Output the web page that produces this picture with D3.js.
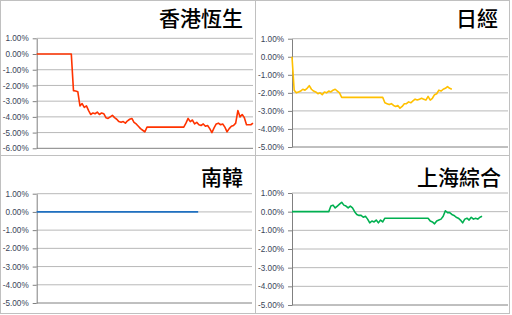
<!DOCTYPE html>
<html>
<head>
<meta charset="utf-8">
<script src="https://cdn.jsdelivr.net/npm/d3@7"></script>
<style>
  body { margin: 0; background: #fff; }
  svg { display: block; }
</style>
</head>
<body>
<div id="chart"></div>
<script>
// index titles
var titles = ["香港恆生", "日經", "南韓", "上海綜合"];

// % change, one value per time step (0..100 across the day)
var hangSeng = [
  0, 0, 0, 0, 0, 0, 0, 0, 0, 0, 0, 0, 0, 0, 0, 0, 0,
  -2.33, -2.35, -2.4, -3.3, -3.15, -3.4, -3.3, -3.6, -3.85, -3.75, -3.8, -3.7, -3.85,
  -3.75, -3.8, -4.05, -4.1, -4.0, -3.9, -4.05, -4.15, -4.3, -4.35, -4.3, -4.4, -4.25,
  -4.15, -4.1, -4.35, -4.45, -4.6, -4.75, -4.85, -4.95, -4.65,
  -4.65, -4.65, -4.65, -4.65, -4.65, -4.65, -4.65, -4.65, -4.65, -4.65, -4.65, -4.65,
  -4.65, -4.65, -4.65, -4.65, -4.65,
  -4.4, -4.1, -4.3, -4.2, -4.45, -4.35, -4.5, -4.55, -4.45, -4.6, -4.55, -4.75, -5.0,
  -4.7, -4.45, -4.4, -4.5, -4.45, -4.65, -4.95, -4.75, -4.6, -4.55, -4.4, -3.6, -4.0,
  -3.85, -4.05, -4.5, -4.5, -4.5, -4.4
];
var nikkei = [
  0, -1.85, -2.0, -1.95, -1.9, -1.8, -1.85, -1.75, -1.6, -1.8, -1.9, -1.95, -2.05,
  -2.0, -2.1, -1.95, -2.0, -1.9, -1.95, -1.85, -1.8, -1.9, -2.0, -2.25,
  -2.25, -2.25, -2.25, -2.25, -2.25, -2.25, -2.25, -2.25, -2.25, -2.25, -2.25, -2.25,
  -2.25, -2.25, -2.25, -2.25, -2.25, -2.25, -2.25,
  -2.55, -2.6, -2.65, -2.6, -2.7, -2.75, -2.7, -2.85, -2.75, -2.6, -2.6, -2.5, -2.55,
  -2.45, -2.35, -2.4, -2.35, -2.3, -2.35, -2.4, -2.2, -2.4, -2.3, -2.1, -2.05, -1.85,
  -1.9, -1.8, -1.75, -1.65, -1.75, -1.8
];
var kospi = [
  0, 0, 0, 0, 0, 0, 0, 0, 0, 0, 0, 0, 0, 0, 0, 0, 0, 0, 0, 0, 0, 0, 0, 0, 0, 0,
  0, 0, 0, 0, 0, 0, 0, 0, 0, 0, 0, 0, 0, 0, 0, 0, 0, 0, 0, 0, 0, 0, 0, 0, 0, 0,
  0, 0, 0, 0, 0, 0, 0, 0, 0, 0, 0, 0, 0, 0, 0, 0, 0, 0, 0, 0, 0, 0, 0, 0
];
var shanghai = [
  0, 0, 0, 0, 0, 0, 0, 0, 0, 0, 0, 0, 0, 0, 0, 0, 0, 0,
  0.3, 0.35, 0.2, 0.3, 0.4, 0.5, 0.35, 0.3, 0.2, 0.3, 0.2, 0.0, -0.15, -0.2, -0.2,
  -0.3, -0.25, -0.4, -0.6, -0.5, -0.55, -0.45, -0.6, -0.45, -0.55, -0.35,
  -0.35, -0.35, -0.35, -0.35, -0.35, -0.35, -0.35, -0.35, -0.35, -0.35, -0.35, -0.35,
  -0.35, -0.35, -0.35, -0.35, -0.35, -0.35, -0.35, -0.35,
  -0.5, -0.55, -0.65, -0.5, -0.45, -0.4, -0.25, 0.05, -0.05, -0.05, -0.15, -0.2,
  -0.3, -0.35, -0.45, -0.6, -0.4, -0.35, -0.45, -0.3, -0.4, -0.35, -0.4, -0.3, -0.25
];

// y ticks
var ticksHK = [1, 0, -1, -2, -3, -4, -5, -6];
var tickLabelsHK = ["1.00%", "0.00%", "-1.00%", "-2.00%", "-3.00%", "-4.00%", "-5.00%", "-6.00%"];
var ticksOther = [1, 0, -1, -2, -3, -4, -5];
var tickLabelsOther = ["1.00%", "0.00%", "-1.00%", "-2.00%", "-3.00%", "-4.00%", "-5.00%"];
var xDomain = [0, 100];

var panels = [
  {title: titles[0], values: hangSeng, ticks: ticksHK, labels: tickLabelsHK, color: "#ff3300",
   x0: 0, y0: 0, left: 36.7, right: 253, top: 38.3, bottom: 148.3, titleX: 243, titleY: 25.5},
  {title: titles[1], values: nikkei, ticks: ticksOther, labels: tickLabelsOther, color: "#ffc000",
   x0: 256, y0: 0, left: 36, right: 252, top: 38.7, bottom: 147, titleX: 242, titleY: 25.5},
  {title: titles[2], values: kospi, ticks: ticksOther, labels: tickLabelsOther, color: "#1f70c1",
   x0: 0, y0: 155, left: 36.7, right: 252, top: 38.7, bottom: 148, titleX: 243, titleY: 30},
  {title: titles[3], values: shanghai, ticks: ticksOther, labels: tickLabelsOther, color: "#00b050",
   x0: 256, y0: 155, left: 36, right: 252, top: 38, bottom: 150, titleX: 245, titleY: 30}
];

var svg = d3.select("#chart").append("svg")
    .attr("width", 512)
    .attr("height", 315);

// panel frames
svg.append("rect")
    .attr("x", 0.5).attr("y", 0.5)
    .attr("width", 509).attr("height", 313)
    .style("fill", "none").style("stroke", "#c0c0c0");
svg.append("line")
    .attr("x1", 255.5).attr("x2", 255.5).attr("y1", 0).attr("y2", 314)
    .style("stroke", "#c0c0c0");
svg.append("line")
    .attr("x1", 0).attr("x2", 510).attr("y1", 155.5).attr("y2", 155.5)
    .style("stroke", "#c0c0c0");

panels.forEach(function(p) {
    var g = svg.append("g")
        .attr("transform", "translate(" + p.x0 + "," + p.y0 + ")");

    var xScale = d3.scaleLinear().domain(xDomain).range([p.left, p.right]);
    var yScale = d3.scaleLinear()
        .domain([p.ticks[p.ticks.length - 1], p.ticks[0]])
        .range([p.bottom, p.top]);

    // gridlines
    g.selectAll("line.grid").data(p.ticks).enter().append("line")
        .attr("class", "grid")
        .attr("x1", p.left).attr("x2", p.right)
        .attr("y1", function(d) { return yScale(d); })
        .attr("y2", function(d) { return yScale(d); })
        .style("stroke", function(d, i) { return i === p.ticks.length - 1 ? "#808080" : "#b8b8b8"; })
        .style("stroke-width", 1);

    // y axis
    var yAxis = d3.axisLeft(yScale)
        .tickValues(p.ticks)
        .tickFormat(function(d, i) { return p.labels[i]; })
        .tickSizeInner(4)
        .tickSizeOuter(0)
        .tickPadding(4);
    var yAxisG = g.append("g")
        .attr("transform", "translate(" + p.left + ",0)")
        .call(yAxis);
    yAxisG.select(".domain").style("stroke", "#808080");
    yAxisG.selectAll(".tick line").style("stroke", "#808080");
    yAxisG.selectAll("text")
        .style("font-family", "'Liberation Sans', Arial, sans-serif")
        .style("font-size", "8.2px")
        .style("fill", "#3a4558");

    // series
    var line = d3.line()
        .x(function(d, i) { return xScale(i); })
        .y(function(d) { return yScale(d); });
    g.append("path")
        .datum(p.values)
        .attr("d", line)
        .style("fill", "none")
        .style("stroke", p.color)
        .style("stroke-width", 1.6)
        .style("stroke-linejoin", "round");

    // title
    g.append("text")
        .attr("x", p.titleX)
        .attr("y", p.titleY)
        .attr("text-anchor", "end")
        .style("font-family", "'Noto Sans CJK TC', 'Noto Sans CJK SC', sans-serif")
        .style("font-size", "21px")
        .style("font-weight", 500)
        .style("fill", "#000")
        .text(p.title);
});
</script>
</body>
</html>
